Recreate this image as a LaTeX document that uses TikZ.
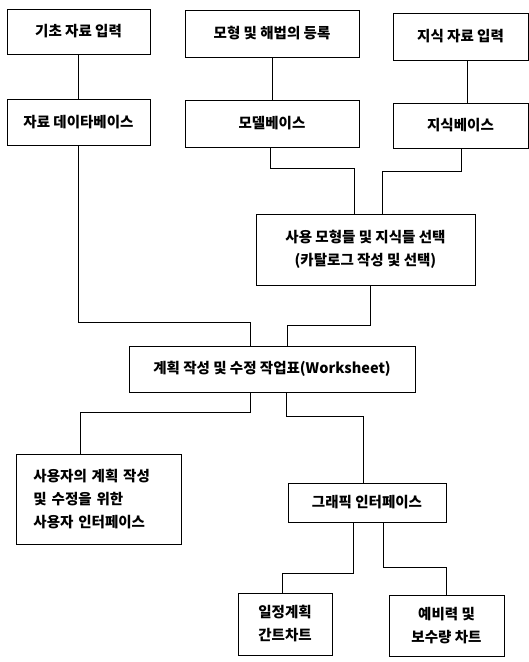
\documentclass[tikz,border=0pt]{standalone}
\usepackage{fontspec}
\setmainfont{Noto Sans CJK KR}
\begin{document}
\begin{tikzpicture}[x=1pt,y=-1pt,
  box/.style={draw,line width=1pt,inner sep=0pt,align=center,font=\bfseries\fontsize{14.5}{23}\selectfont},
  conn/.style={line width=1pt}]
\useasboundingbox (0,0) rectangle (529,662);
\node[box,minimum width=143,minimum height=45] (A) at (78.5,31.5) {기초 자료 입력};
\node[box,minimum width=174,minimum height=47] (B) at (272,33.5) {모형 및 해법의 등록};
\node[box,minimum width=135,minimum height=47] (C) at (460.5,36.5) {지식 자료 입력};
\node[box,minimum width=143,minimum height=46] (D) at (78.5,122) {자료 데이타베이스};
\node[box,minimum width=174,minimum height=47] (M) at (272,123.5) {모델베이스};
\node[box,minimum width=135,minimum height=45] (K) at (460.5,125.5) {지식베이스};
\node[box,minimum width=219,minimum height=71] (S) at (365.5,249.5) {사용 모형들 및 지식들 선택\\(카탈로그 작성 및 선택)};
\node[box,minimum width=286,minimum height=46] (W) at (272,369) {계획 작성 및 수정 작업표(Worksheet)};
\node[box,minimum width=165,minimum height=90,align=left,text width=130] (U) at (98.5,499) {사용자의 계획 작성\\및 수정을 위한\\사용자 인터페이스};
\node[box,minimum width=158,minimum height=39] (G) at (367,502.5) {그래픽 인터페이스};
\node[box,minimum width=94,minimum height=62] (L1) at (285,624) {일정계획\\간트차트};
\node[box,minimum width=115,minimum height=61] (L2) at (446.5,625.5) {예비력 및\\보수량 차트};
% connectors
\draw[conn] (A.south) -- (D.north);
\draw[conn] (B.south) -- (M.north);
\draw[conn] ([xshift=6.5pt]C.south) -- ([xshift=6.5pt]K.north);
\coordinate (dw) at (250,322);
\draw[conn] (D.south) |- (dw) -- (dw |- W.north);
\coordinate (ms1) at (270,168);
\coordinate (ms2) at (354,168);
\draw[conn] (ms1 |- M.south) -- (ms1) -- (ms2) -- (ms2 |- S.north);
\coordinate (ks1) at (461,171);
\coordinate (ks2) at (382,171);
\draw[conn] (ks1 |- K.south) -- (ks1) -- (ks2) -- (ks2 |- S.north);
\coordinate (sw1) at (370,325);
\coordinate (sw2) at (287,325);
\draw[conn] (sw1 |- S.south) -- (sw1) -- (sw2) -- (sw2 |- W.north);
\coordinate (wu1) at (250,412);
\coordinate (wu2) at (80,412);
\draw[conn] (wu1 |- W.south) -- (wu1) -- (wu2) -- (wu2 |- U.north);
\coordinate (wg1) at (286,416);
\coordinate (wg2) at (363,416);
\draw[conn] (wg1 |- W.south) -- (wg1) -- (wg2) -- (wg2 |- G.north);
\coordinate (gl1) at (353,573);
\coordinate (gl2) at (282,573);
\draw[conn] (gl1 |- G.south) -- (gl1) -- (gl2) -- (gl2 |- L1.north);
\coordinate (gr1) at (383,567);
\coordinate (gr2) at (446,567);
\draw[conn] (gr1 |- G.south) -- (gr1) -- (gr2) -- (gr2 |- L2.north);
\end{tikzpicture}
\end{document}
